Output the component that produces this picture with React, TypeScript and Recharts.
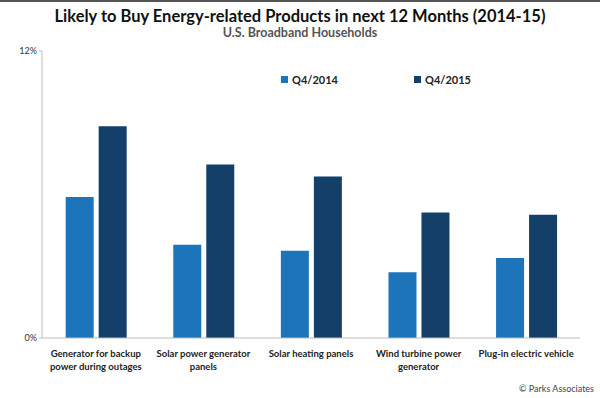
import React from "react";
import { BarChart, Bar, XAxis, YAxis, Legend } from "recharts";

const categories = [
  ["Generator for backup", "power during outages"],
  ["Solar power generator", "panels"],
  ["Solar heating panels"],
  ["Wind turbine power", "generator"],
  ["Plug-in electric vehicle"],
];
const q4_2014 = [5.9, 3.9, 3.65, 2.75, 3.35];
const q4_2015 = [8.85, 7.25, 6.75, 5.25, 5.15];
const yTicks = [0, 12];

const LIGHT = "#1c74bb";
const DARK = "#133f69";
const FONT = "Lato, 'Open Sans', sans-serif";

const data = categories.map((lines, i) => ({
  name: lines.join(" "),
  lines,
  q4_2014: q4_2014[i],
  q4_2015: q4_2015[i],
}));

function CategoryTick({ x, y, payload, index }: any) {
  const lines = data[index] ? data[index].lines : [payload.value];
  return (
    <text x={x} y={y + 11} textAnchor="middle" fontFamily={FONT} fontWeight="bold" fontSize={9.5} fill="#222">
      {lines.map((l: string, i: number) => (
        <tspan key={i} x={x} dy={i === 0 ? 0 : 13}>
          {l}
        </tspan>
      ))}
    </text>
  );
}

function LegendContent() {
  const items = [
    { label: "Q4/2014", color: LIGHT },
    { label: "Q4/2015", color: DARK },
  ];
  return (
    <div style={{ display: "flex", fontFamily: FONT, fontWeight: "bold", fontSize: 11, color: "#222" }}>
      {items.map((it) => (
        <div key={it.label} style={{ display: "flex", alignItems: "center", width: 133 }}>
          <span style={{ display: "inline-block", width: 7, height: 7, background: it.color, marginRight: 4 }} />
          {it.label}
        </div>
      ))}
    </div>
  );
}

export default function App() {
  return (
    <div
      style={{
        position: "absolute",
        left: 0,
        top: 0,
        width: 600,
        height: 398,
        background: "#fff",
        overflow: "hidden",
        fontFamily: FONT,
      }}
    >
      <div style={{ position: "absolute", left: 0, top: 0, width: 600, height: 2, background: "#555" }} />
      <div
        style={{
          position: "absolute",
          top: 6,
          left: 0,
          width: 600,
          textAlign: "center",
          fontWeight: "bold",
          fontSize: 16.5,
          color: "#111",
        }}
      >
        Likely to Buy Energy-related Products in next 12 Months (2014-15)
      </div>
      <div
        style={{
          position: "absolute",
          top: 25,
          left: 0,
          width: 600,
          textAlign: "center",
          fontWeight: "bold",
          fontSize: 12.5,
          color: "#555",
        }}
      >
        U.S. Broadband Households
      </div>
      <BarChart
        width={600}
        height={398}
        data={data}
        margin={{ top: 51, right: 20, bottom: 30, left: 2 }}
        barGap={5}
        barCategoryGap="22%"
      >
        <XAxis
          dataKey="name"
          height={30}
          interval={0}
          tickLine={false}
          axisLine={{ stroke: "#bbb" }}
          tick={<CategoryTick />}
        />
        <YAxis
          width={40}
          domain={[0, 12]}
          ticks={yTicks}
          tickFormatter={(v) => `${v}%`}
          tickSize={3}
          tickLine={{ stroke: "#bbb" }}
          axisLine={{ stroke: "#bbb" }}
          tick={{ fontFamily: FONT, fontSize: 9, fill: "#333" }}
        />
        <Legend
          layout="horizontal"
          verticalAlign="middle"
          content={<LegendContent />}
          wrapperStyle={{ top: 73, left: 281, width: 280 }}
        />
        <Bar dataKey="q4_2014" name="Q4/2014" fill={LIGHT} isAnimationActive={false} />
        <Bar dataKey="q4_2015" name="Q4/2015" fill={DARK} isAnimationActive={false} />
      </BarChart>
      <div
        style={{
          position: "absolute",
          right: 6,
          top: 383,
          fontSize: 9,
          color: "#444",
        }}
      >
        © Parks Associates
      </div>
    </div>
  );
}
